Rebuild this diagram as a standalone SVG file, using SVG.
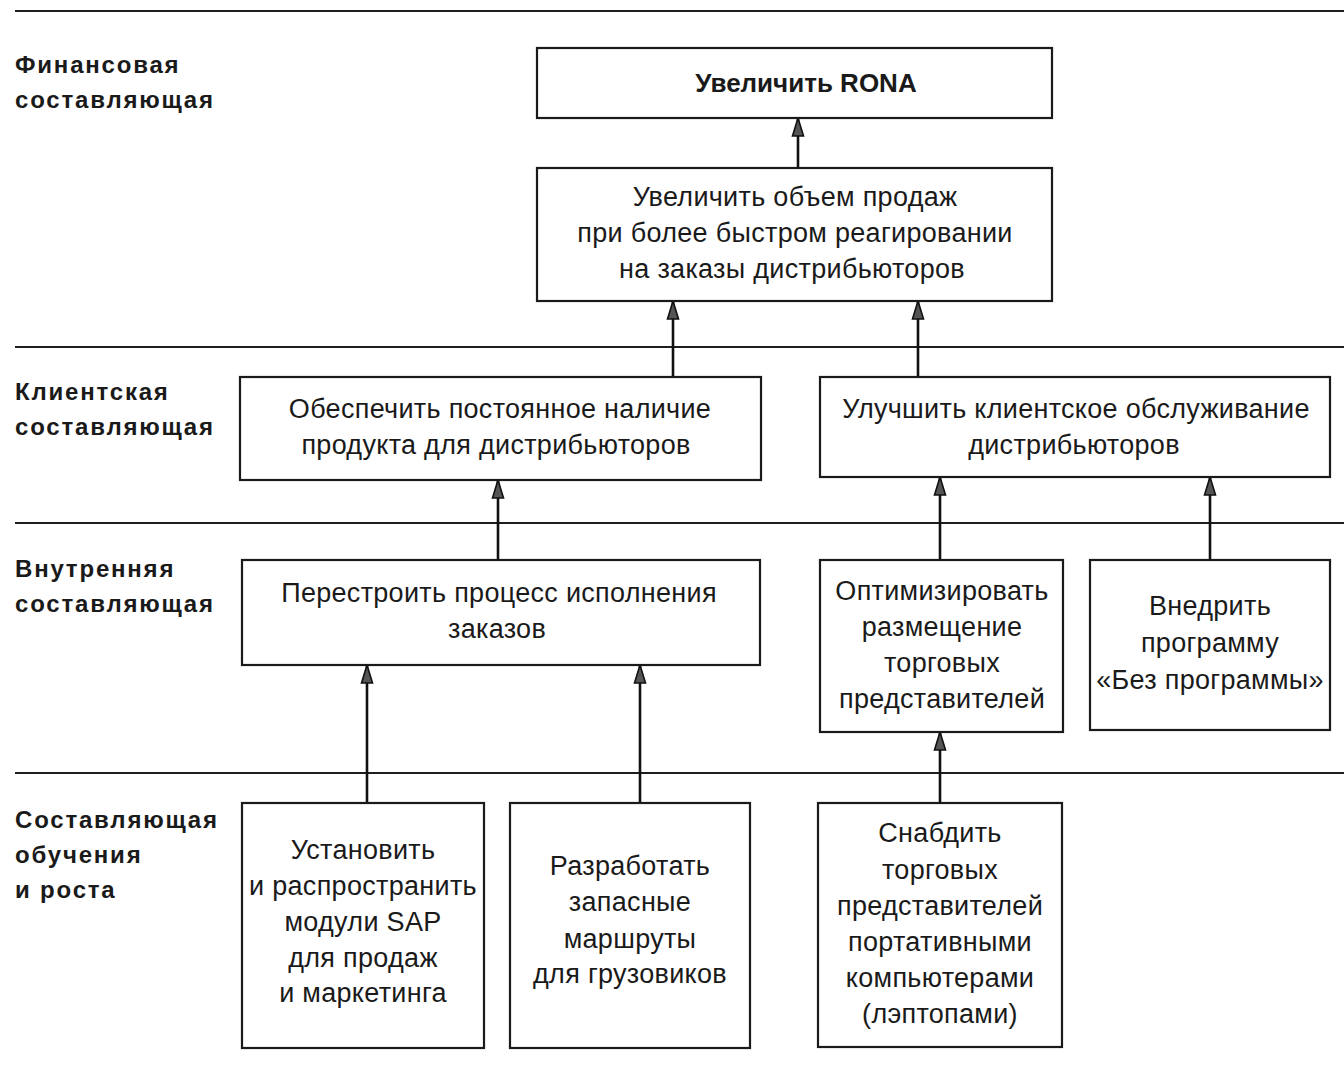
<svg xmlns="http://www.w3.org/2000/svg" width="1344" height="1081" viewBox="0 0 1344 1081">
  <style>
    .bg { fill: #ffffff; }
    .sep { stroke: #1e1e1e; stroke-width: 2.2; fill: none; }
    .box { fill: #ffffff; stroke: #1a1a1a; stroke-width: 2.2; }
    .conn { stroke: #111111; stroke-width: 2.6; fill: none; marker-end: url(#arrow); }
    .lbl { font-family: "Liberation Sans", Arial, sans-serif; font-weight: bold; font-size: 24px; letter-spacing: 1.8px; fill: #1a1a1a; }
    .txt { font-family: "Liberation Sans", Arial, sans-serif; font-size: 27px; letter-spacing: 0.3px; fill: #1a1a1a; text-anchor: middle; }
    .bold { font-weight: bold; font-size: 26px; letter-spacing: 0; }
  </style>
  <defs>
    <marker id="arrow" viewBox="0 0 20 14" refX="19" refY="7" markerWidth="20" markerHeight="14" markerUnits="userSpaceOnUse" orient="auto">
      <path d="M1,1.5 L19,7 L1,12.5 z" fill="#555555" stroke="#111111" stroke-width="1.6" stroke-linejoin="miter"/>
    </marker>
  </defs>

  <rect class="bg" x="0" y="0" width="1344" height="1081"/>

  <!-- layer separators -->
  <g id="separators">
    <line class="sep" x1="15" y1="11" x2="1344" y2="11"/>
    <line class="sep" x1="15" y1="347" x2="1344" y2="347"/>
    <line class="sep" x1="15" y1="523" x2="1344" y2="523"/>
    <line class="sep" x1="15" y1="773" x2="1344" y2="773"/>
  </g>

  <!-- perspective labels -->
  <g id="labels">
    <text class="lbl" x="15" y="73">Финансовая</text>
    <text class="lbl" x="15" y="108">составляющая</text>
    <text class="lbl" x="15" y="400">Клиентская</text>
    <text class="lbl" x="15" y="435">составляющая</text>
    <text class="lbl" x="15" y="577">Внутренняя</text>
    <text class="lbl" x="15" y="612">составляющая</text>
    <text class="lbl" x="15" y="828">Составляющая</text>
    <text class="lbl" x="15" y="863">обучения</text>
    <text class="lbl" x="15" y="898">и роста</text>
  </g>

  <!-- connectors -->
  <g id="connectors">
    <line class="conn" x1="798" y1="168" x2="798" y2="118"/>
    <line class="conn" x1="673" y1="377" x2="673" y2="301"/>
    <line class="conn" x1="918" y1="377" x2="918" y2="301"/>
    <line class="conn" x1="498" y1="560" x2="498" y2="480"/>
    <line class="conn" x1="940" y1="560" x2="940" y2="477"/>
    <line class="conn" x1="1210" y1="560" x2="1210" y2="477"/>
    <line class="conn" x1="367" y1="803" x2="367" y2="665"/>
    <line class="conn" x1="640" y1="803" x2="640" y2="665"/>
    <line class="conn" x1="940" y1="803" x2="940" y2="732"/>
  </g>

  <!-- financial -->
  <g id="n-rona">
    <rect class="box" x="537" y="48" width="515" height="70"/>
    <text class="txt bold" x="806" y="92">Увеличить RONA</text>
  </g>
  <g id="n-sales">
    <rect class="box" x="537" y="168" width="515" height="133"/>
    <text class="txt" x="795" y="206">Увеличить объем продаж</text>
    <text class="txt" x="795" y="242">при более быстром реагировании</text>
    <text class="txt" x="792" y="278">на заказы дистрибьюторов</text>
  </g>

  <!-- customer -->
  <g id="n-availability">
    <rect class="box" x="240" y="377" width="521" height="103"/>
    <text class="txt" x="500" y="418">Обеспечить постоянное наличие</text>
    <text class="txt" x="496" y="454">продукта для дистрибьюторов</text>
  </g>
  <g id="n-service">
    <rect class="box" x="820" y="377" width="510" height="100"/>
    <text class="txt" x="1076" y="418">Улучшить клиентское обслуживание</text>
    <text class="txt" x="1074" y="454">дистрибьюторов</text>
  </g>

  <!-- internal -->
  <g id="n-process">
    <rect class="box" x="242" y="560" width="518" height="105"/>
    <text class="txt" x="499" y="602">Перестроить процесс исполнения</text>
    <text class="txt" x="497" y="638">заказов</text>
  </g>
  <g id="n-placement">
    <rect class="box" x="820" y="560" width="243" height="172"/>
    <text class="txt" x="942" y="600">Оптимизировать</text>
    <text class="txt" x="942" y="636">размещение</text>
    <text class="txt" x="942" y="672">торговых</text>
    <text class="txt" x="942" y="708">представителей</text>
  </g>
  <g id="n-program">
    <rect class="box" x="1090" y="560" width="240" height="170"/>
    <text class="txt" x="1210" y="615">Внедрить</text>
    <text class="txt" x="1210" y="652">программу</text>
    <text class="txt" x="1210" y="689">«Без программы»</text>
  </g>

  <!-- learning and growth -->
  <g id="n-sap">
    <rect class="box" x="242" y="803" width="242" height="245"/>
    <text class="txt" x="363" y="859">Установить</text>
    <text class="txt" x="363" y="895">и распространить</text>
    <text class="txt" x="363" y="931">модули SAP</text>
    <text class="txt" x="363" y="967">для продаж</text>
    <text class="txt" x="363" y="1002">и маркетинга</text>
  </g>
  <g id="n-routes">
    <rect class="box" x="510" y="803" width="240" height="245"/>
    <text class="txt" x="630" y="875">Разработать</text>
    <text class="txt" x="630" y="911">запасные</text>
    <text class="txt" x="630" y="948">маршруты</text>
    <text class="txt" x="630" y="983">для грузовиков</text>
  </g>
  <g id="n-laptops">
    <rect class="box" x="818" y="803" width="244" height="244"/>
    <text class="txt" x="940" y="842">Снабдить</text>
    <text class="txt" x="940" y="879">торговых</text>
    <text class="txt" x="940" y="915">представителей</text>
    <text class="txt" x="940" y="951">портативными</text>
    <text class="txt" x="940" y="987">компьютерами</text>
    <text class="txt" x="940" y="1023">(лэптопами)</text>
  </g>
</svg>
